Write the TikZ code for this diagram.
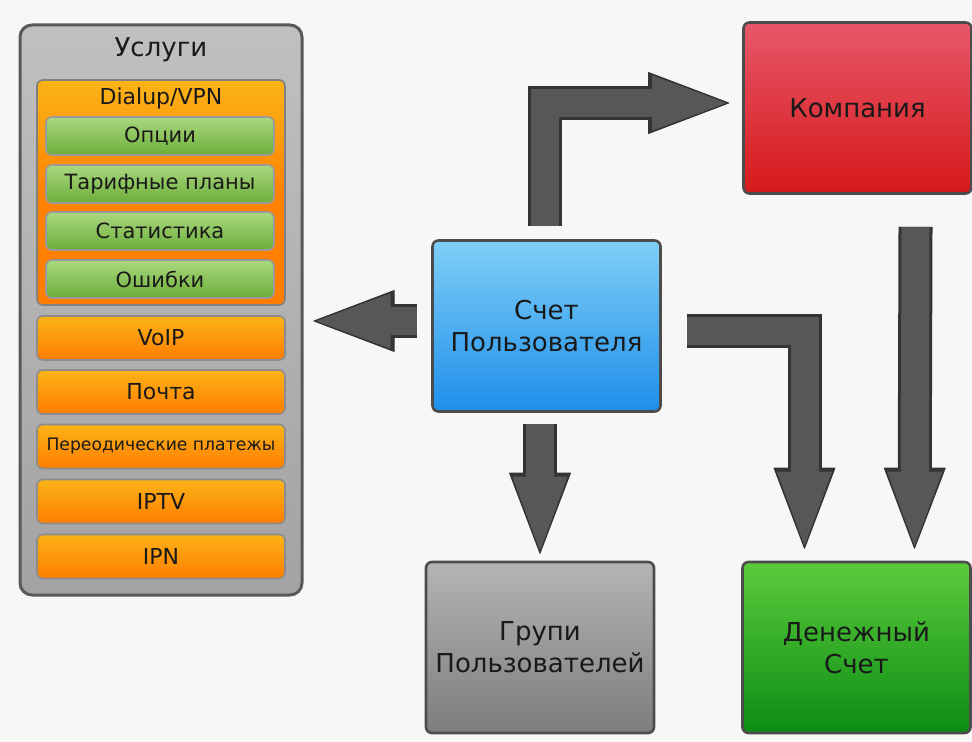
\documentclass[tikz,border=0pt]{standalone}
\usepackage{fontspec}
\setmainfont{DejaVu Sans}
\usetikzlibrary{arrows.meta}
\definecolor{bgcol}{HTML}{F7F7F5}
\definecolor{arrowgray}{HTML}{575757}
\definecolor{arrowdark}{HTML}{343434}
\definecolor{orangetop}{HTML}{FBB317}
\definecolor{orangebot}{HTML}{FF7D00}
\definecolor{greentop}{HTML}{AAD87F}
\definecolor{greenbot}{HTML}{6CAE39}
\definecolor{bluetop}{HTML}{7FCFF6}
\definecolor{bluebot}{HTML}{1E8EEA}
\definecolor{redtop}{HTML}{E8586A}
\definecolor{redbot}{HTML}{D6191A}
\definecolor{graytop}{HTML}{B4B4B4}
\definecolor{graybot}{HTML}{7D7D7D}
\definecolor{moneytop}{HTML}{5BCB3C}
\definecolor{moneybot}{HTML}{0C8C14}
\definecolor{panelgray}{HTML}{B6B4B5}

\begin{document}
\begin{tikzpicture}[x=0.5pt,y=-0.5pt,
  bigbox/.style={draw=black!70, line width=1.3pt, rounded corners=3pt, inner sep=0pt,
    minimum width=114pt, minimum height=85.5pt, align=center,
    font=\fontsize{13}{16}\selectfont, text=black!90},
  servbox/.style={draw=black!45, line width=0.8pt, rounded corners=3pt, inner sep=0pt,
    minimum width=124pt, minimum height=22pt, top color=orangetop, bottom color=orangebot,
    font=\fontsize{11}{13}\selectfont, text=black!90},
  optbox/.style={draw=black!40, line width=0.8pt, rounded corners=3pt, inner sep=0pt,
    minimum width=114pt, minimum height=19pt, top color=greentop, bottom color=greenbot,
    font=\fontsize{10.5}{12}\selectfont, text=black!90},
  arrowedge/.style={line width=17pt, draw=arrowdark,
    -{Triangle[width=31pt,length=41pt,line width=0.5pt,round]}},
  arrowfill/.style={line width=14pt, draw=arrowgray, shorten >=2pt,
    -{Triangle[width=27.5pt,length=37pt,line width=0.5pt,round]}}]

\fill[bgcol] (0,0) rectangle (972,742);
\useasboundingbox (0,0) rectangle (972,742);

% services column
\node[draw=black!65, line width=1.5pt, rounded corners=6pt, minimum width=141pt, minimum height=285pt,
  top color=panelgray!85!white, bottom color=panelgray!90!black] (services) at (161,310) {};
\node[font=\fontsize{13}{16}\selectfont, text=black!90] (servicesname) at (161,50) {Услуги};

\node[draw=black!50, line width=0.8pt, rounded corners=3pt, minimum width=124pt, minimum height=112.5pt,
  top color=orangetop, bottom color=orangebot, middle color=orangebot!90!orangetop] (dialup) at (161,192.5) {};
\node[font=\fontsize{11}{13}\selectfont, text=black!90] (dialupname) at (161,98) {Dialup/VPN};

\node[optbox] (options) at (160,136) {Опции};
\node[optbox] (tariffs) at (160,184) {Тарифные планы};
\node[optbox] (stats) at (160,231) {Статистика};
\node[optbox] (errors) at (160,279) {Ошибки};

\node[servbox] (voip) at (161,338) {VoIP};
\node[servbox] (mail) at (161,392) {Почта};
\node[servbox, font=\fontsize{8.6}{10}\selectfont] (periodic) at (161,446.5) {Переодические платежы};
\node[servbox] (iptv) at (161,501.5) {IPTV};
\node[servbox] (ipn) at (161,556.5) {IPN};

% main boxes
\node[bigbox, top color=bluetop, bottom color=bluebot] (acct) at (546.5,326) {Счет\\Пользователя};
\node[bigbox, top color=redtop, bottom color=redbot] (company) at (857.5,108) {Компания};
\node[bigbox, top color=graytop, bottom color=graybot] (groups) at (540,647.5) {Групи\\Пользователей};
\node[bigbox, top color=moneytop, bottom color=moneybot] (money) at (856.5,647.5) {Денежный\\Счет};

% arrows
\draw[arrowedge] ([xshift=-7pt,yshift=2.5pt]acct.west) -- ([xshift=5pt,yshift=2.5pt]acct.west -| services.east);
\draw[arrowfill] ([xshift=-7pt,yshift=2.5pt]acct.west) -- ([xshift=5pt,yshift=2.5pt]acct.west -| services.east);

\draw[arrowedge] ([xshift=-1pt,yshift=6.5pt]acct.north) |- ([xshift=-6.5pt,yshift=2.5pt]company.west);
\draw[arrowfill] ([xshift=-1pt,yshift=6.5pt]acct.north) |- ([xshift=-6.5pt,yshift=2.5pt]company.west);

\draw[arrowedge] ([xshift=12.5pt,yshift=-2.5pt]acct.east) -| ([xshift=-26pt,yshift=6pt]money.north);
\draw[arrowfill] ([xshift=12.5pt,yshift=-2.5pt]acct.east) -| ([xshift=-26pt,yshift=6pt]money.north);

\draw[arrowedge] ([xshift=29pt,yshift=-16pt]company.south) -- ([xshift=29pt,yshift=6pt]money.north);
\draw[arrowfill] ([xshift=29pt,yshift=-16pt]company.south) -- ([xshift=29pt,yshift=6pt]money.north);

\draw[arrowedge] ([yshift=-5.5pt]acct.south -| groups.north) -- ([yshift=3.5pt]groups.north);
\draw[arrowfill] ([yshift=-5.5pt]acct.south -| groups.north) -- ([yshift=3.5pt]groups.north);
\end{tikzpicture}
\end{document}
